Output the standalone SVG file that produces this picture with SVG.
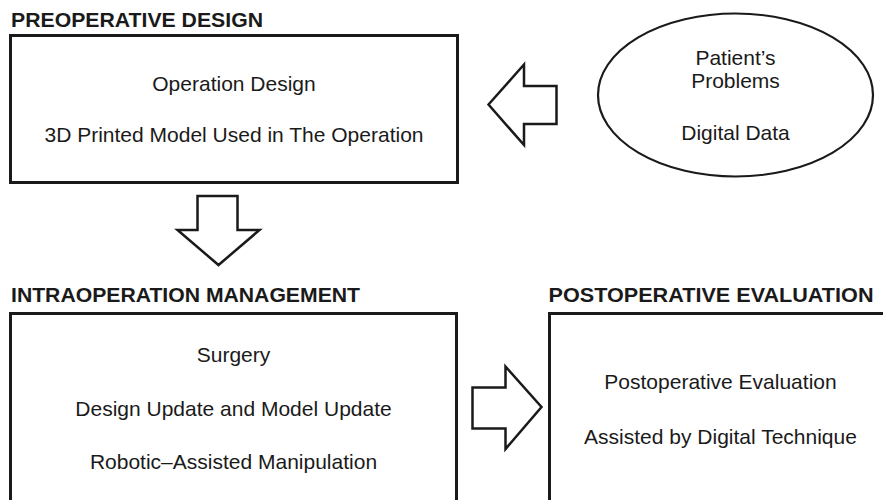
<svg xmlns="http://www.w3.org/2000/svg" width="883" height="500" viewBox="0 0 883 500">
<style>
.title{font-family:"Liberation Sans",Arial,sans-serif;font-weight:bold;font-size:20.5px;fill:#1a1a1a}
.t{font-family:"Liberation Sans",Arial,sans-serif;font-size:21px;fill:#1a1a1a;text-anchor:middle}
.box{fill:#fff;stroke:#1a1a1a;stroke-width:3}
.arrow{fill:#fff;stroke:#1a1a1a;stroke-width:2.5;stroke-linejoin:miter}
</style>
<rect width="883" height="500" fill="#fff"/>
<g id="preoperative">
<text class="title" x="11" y="26.5" textLength="252" lengthAdjust="spacingAndGlyphs">PREOPERATIVE DESIGN</text>
<rect class="box" x="10.5" y="35.5" width="447" height="147"/>
<text class="t" x="234" y="90.5">Operation Design</text>
<text class="t" x="234" y="141.5">3D Printed Model Used in The Operation</text>
</g>
<g id="patient">
<ellipse cx="735.5" cy="95" rx="137.5" ry="81.5" fill="#fff" stroke="#1a1a1a" stroke-width="2.2"/>
<text class="t" x="735.5" y="64.5">Patient’s</text>
<text class="t" x="735.5" y="87.5">Problems</text>
<text class="t" x="735.5" y="140">Digital Data</text>
</g>
<g id="intraoperation">
<text class="title" x="11" y="302" textLength="349" lengthAdjust="spacingAndGlyphs">INTRAOPERATION MANAGEMENT</text>
<rect class="box" x="10.5" y="313.5" width="446" height="200"/>
<text class="t" x="233.5" y="361.5">Surgery</text>
<text class="t" x="233.5" y="415.5">Design Update and Model Update</text>
<text class="t" x="233.5" y="468.5">Robotic–Assisted Manipulation</text>
</g>
<g id="postoperative">
<text class="title" x="548.5" y="302" textLength="325" lengthAdjust="spacingAndGlyphs">POSTOPERATIVE EVALUATION</text>
<rect class="box" x="549.5" y="313.5" width="345" height="200"/>
<text class="t" x="720.5" y="388.5">Postoperative Evaluation</text>
<text class="t" x="720.5" y="444">Assisted by Digital Technique</text>
</g>
<g id="connectors">
<polygon class="arrow" points="488.5,104.5 524,64.5 524,86 556.5,86 556.5,124 524,124 524,145 "/>
<polygon class="arrow" points="197.5,196 237.5,196 237.5,230 259.5,230 218.5,265 177.5,230 197.5,230"/>
<polygon class="arrow" points="472.5,387.5 505.5,387.5 505.5,366.5 541.5,407 505.5,449 505.5,428.5 472.5,428.5"/>
</g>
</svg>
